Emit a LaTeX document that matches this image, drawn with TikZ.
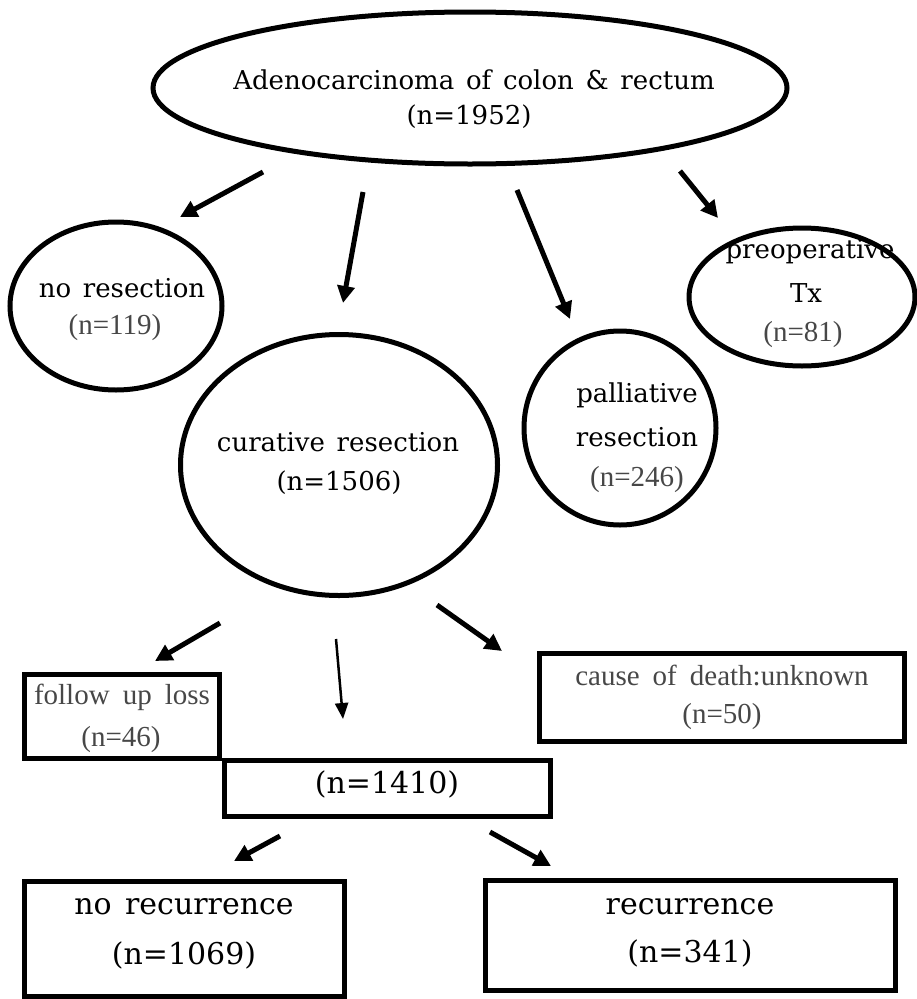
\documentclass[tikz,border=0pt]{standalone}
\usepackage{fontspec}
\setmainfont{DejaVu Serif}
\newfontfamily\grayfont{Liberation Serif}
\usetikzlibrary{shapes.geometric,arrows.meta}
\newcommand\widesp{\spaceskip=0.45em\relax}
\tikzset{
  oval/.style={draw,ellipse,line width=5pt,inner sep=0pt},
  boxx/.style={draw,rectangle,line width=5pt,inner sep=0pt},
  blk/.style={inner sep=0pt,text=black,font=\fontsize{26}{28}\selectfont,execute at begin node=\widesp},
  big/.style={inner sep=0pt,text=black,font=\fontsize{30}{32}\selectfont,execute at begin node=\widesp},
  gry/.style={inner sep=0pt,text=black!72,font=\grayfont\fontsize{29}{31}\selectfont,execute at begin node=\widesp},
  arr/.style={line width=5pt,-{Triangle[length=17pt,width=17pt]}},
  thinarr/.style={line width=2.5pt,-{Triangle[length=16pt,width=13pt]}}
}
\begin{document}
\begin{tikzpicture}[x=1pt,y=-1pt]
\useasboundingbox (0,0) rectangle (917,999);
% shapes
\node[oval,minimum width=634pt,minimum height=152pt] (top) at (470,88) {};
\node[oval,minimum width=212pt,minimum height=168pt] (nores) at (116,306) {};
\node[oval,minimum width=317pt,minimum height=261pt] (cur) at (339,465) {};
\node[oval,minimum width=192pt,minimum height=194pt] (pal) at (620,428) {};
\node[oval,minimum width=226pt,minimum height=138pt] (pre) at (802,297) {};
\node[boxx,minimum width=195pt,minimum height=84pt] (fu) at (122,716.5) {};
\node[boxx,minimum width=365pt,minimum height=88pt] (cod) at (722,697) {};
\node[boxx,minimum width=326pt,minimum height=56pt] (tot) at (387.5,788.5) {};
\node[boxx,minimum width=320pt,minimum height=115pt] (norec) at (184.5,939) {};
\node[boxx,minimum width=410pt,minimum height=110pt] (rec) at (690,935.5) {};
% texts
\node[blk] (t1) at (474,80) {Adenocarcinoma of colon \& rectum};
\node[blk] (t2) at (469,117) {(n=1952)};
\node[blk] (t3) at (122,288) {no resection};
\node[gry] (t4) at (115,328) {(n=119)};
\node[blk] (t5) at (338,442) {curative resection};
\node[blk] (t6) at (339,483) {(n=1506)};
\node[blk] (t7) at (637,395) {palliative};
\node[blk] (t8) at (637,437) {resection};
\node[gry] (t9) at (637,480) {(n=246)};
\node[blk] (t10) at (810,252) {preoperative};
\node[blk] (t11) at (806,293) {Tx};
\node[gry] (t12) at (803,335) {(n=81)};
\node[gry] (t13) at (122,697) {follow up loss};
\node[gry] (t14) at (121,740) {(n=46)};
\node[gry] (t15) at (722,675) {cause of death:unknown};
\node[gry] (t16) at (722,717) {(n=50)};
\node[big] (t17) at (387,784) {(n=1410)};
\node[big] (t18) at (184,907) {no recurrence};
\node[big] (t19) at (184,955) {(n=1069)};
\node[big] (t20) at (690,907) {recurrence};
\node[big] (t21) at (690,953) {(n=341)};
% connector endpoints
\coordinate (a1s) at (263,172); \coordinate (a1e) at (180,217);
\coordinate (a2s) at (363,192); \coordinate (a2e) at (343,303);
\coordinate (a3s) at (517,190); \coordinate (a3e) at (570,319);
\coordinate (a4s) at (680,171); \coordinate (a4e) at (718,218);
\coordinate (b1s) at (220,623); \coordinate (b1e) at (155,661);
\coordinate (b2s) at (336,639); \coordinate (b2e) at (343,719);
\coordinate (b3s) at (437,605); \coordinate (b3e) at (502,651);
\coordinate (c1s) at (280,836); \coordinate (c1e) at (234,861);
\coordinate (c2s) at (490,832); \coordinate (c2e) at (551,866);
\draw[arr] (a1s) -- (a1e);
\draw[arr] (a2s) -- (a2e);
\draw[arr] (a3s) -- (a3e);
\draw[arr] (a4s) -- (a4e);
\draw[arr] (b1s) -- (b1e);
\draw[thinarr] (b2s) -- (b2e);
\draw[arr] (b3s) -- (b3e);
\draw[arr] (c1s) -- (c1e);
\draw[arr] (c2s) -- (c2e);
\end{tikzpicture}
\end{document}
